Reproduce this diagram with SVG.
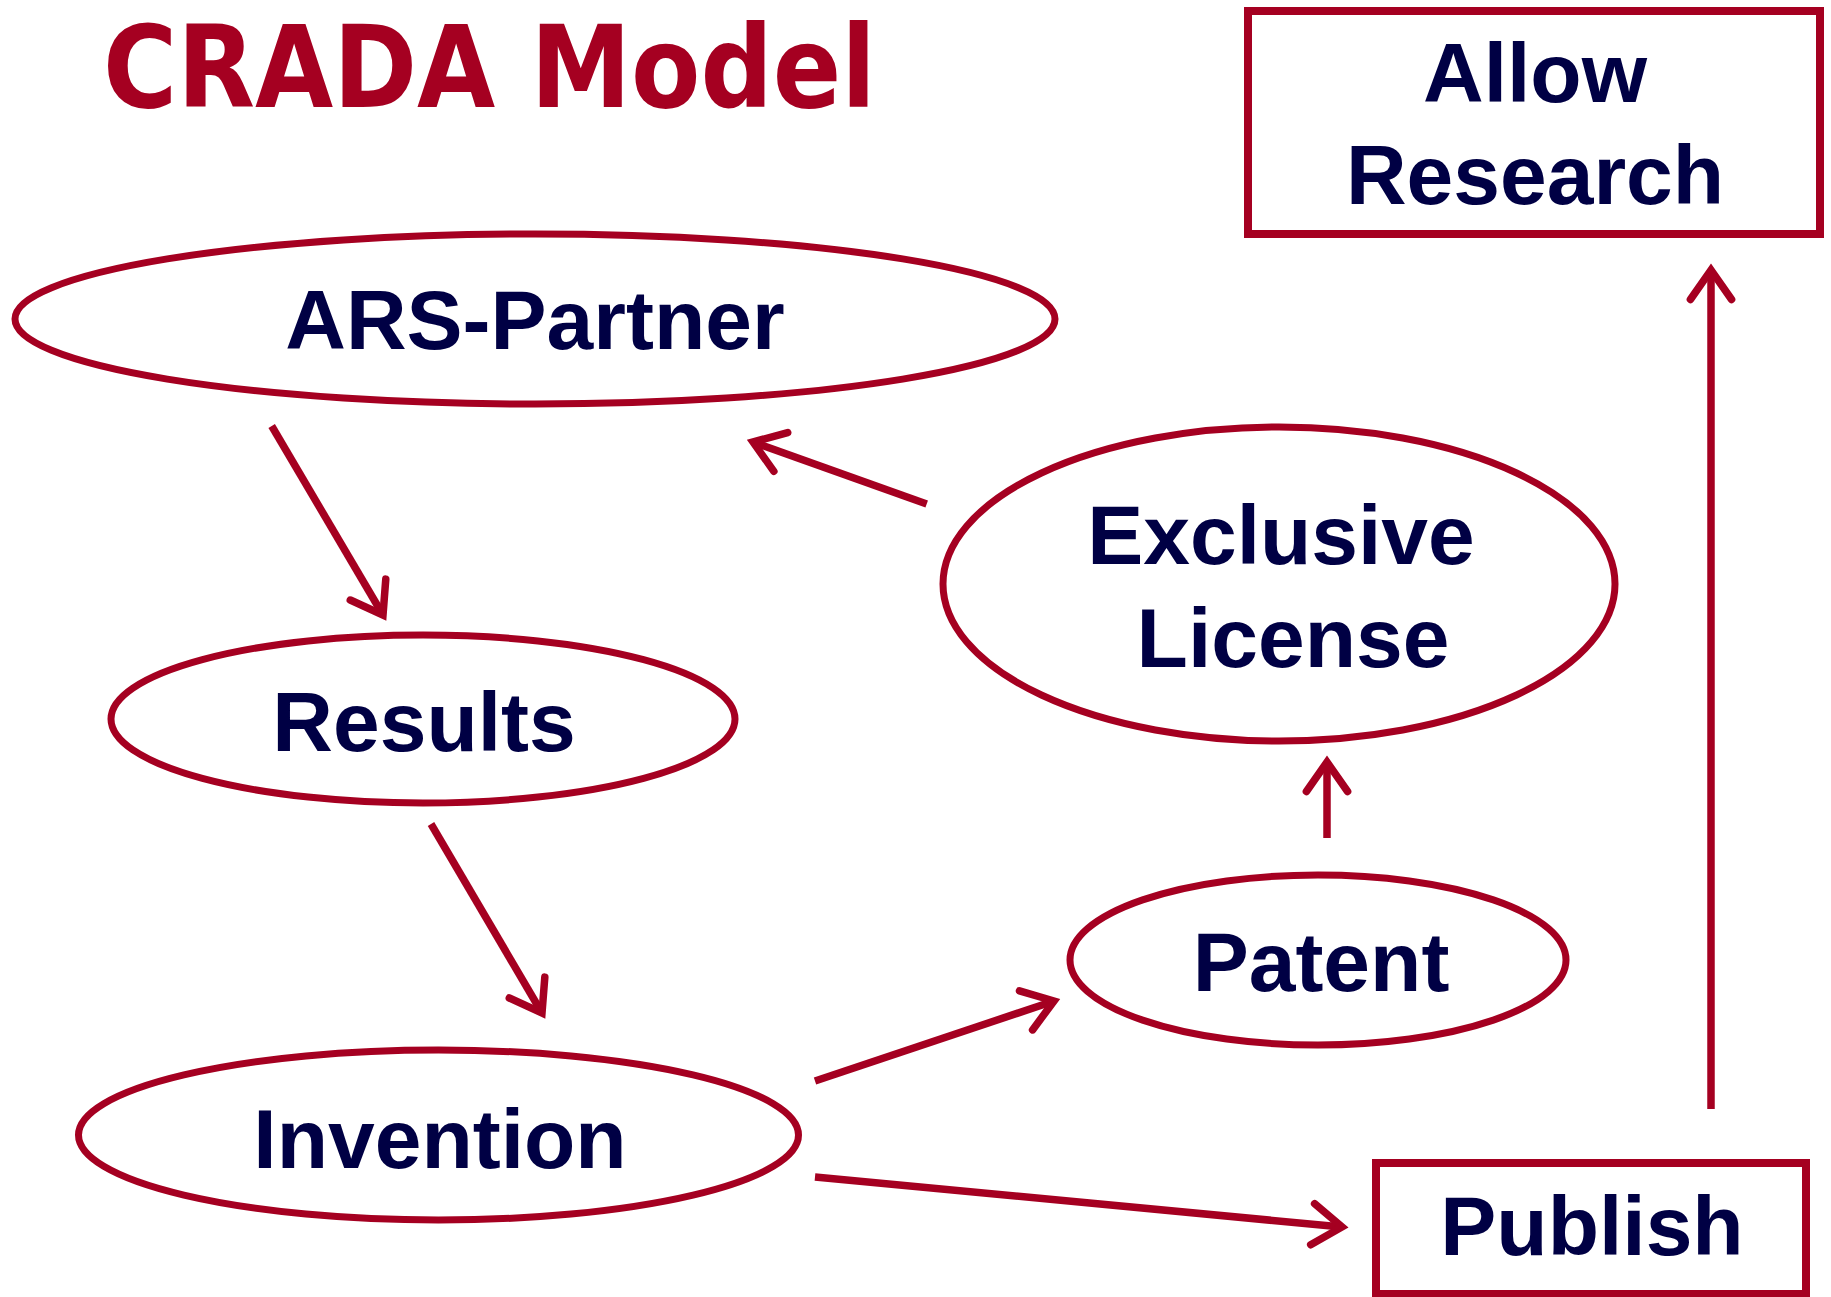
<svg xmlns="http://www.w3.org/2000/svg" width="1831" height="1297" viewBox="0 0 1831 1297">
<style>
.node-e{fill:#FFFFFF;stroke:#A50021;stroke-width:7}
.node-r{fill:#FFFFFF;stroke:#A50021;stroke-width:8}
.lbl{font-family:"Liberation Sans",Arial,sans-serif;font-weight:bold;font-size:84px;fill:#000044;text-anchor:middle}
.conn{fill:none;stroke:#A50021;stroke-width:7.5;stroke-linecap:butt;marker-end:url(#ah)}
.title{font-family:"Comic Sans MS","DejaVu Sans",sans-serif;font-weight:bold;font-size:114px;fill:#A50021}
</style>
<defs>
<marker id="ah" markerUnits="userSpaceOnUse" markerWidth="60" markerHeight="60" refX="40" refY="25" orient="auto" overflow="visible">
<path d="M10.5,4.4 L40,25 L10.5,45.6" fill="none" stroke="#A50021" stroke-width="7.5" stroke-linecap="round" stroke-linejoin="miter"/>
</marker>
</defs>
<rect width="1831" height="1297" fill="#FFFFFF"/>
<text id="title" class="title" x="103" y="107" textLength="773" lengthAdjust="spacingAndGlyphs">CRADA Model</text>
<g id="connectors">
<path class="conn" d="M271.7,426 L383,615"/>
<path class="conn" d="M926.7,504 L753,442"/>
<path class="conn" d="M431,824 L542,1013"/>
<path class="conn" d="M1327,838 L1327,762"/>
<path class="conn" d="M815,1081 L1054,1001"/>
<path class="conn" d="M815,1177 L1342,1227"/>
<path class="conn" d="M1711,1109 L1711,270"/>
</g>
<g id="allow-research">
<rect class="node-r" x="1248" y="11" width="572" height="223"/>
<text class="lbl" x="1535" y="102">Allow</text>
<text class="lbl" x="1535" y="204">Research</text>
</g>
<g id="ars-partner">
<ellipse class="node-e" cx="535" cy="319" rx="520" ry="85"/>
<text class="lbl" x="535" y="349">ARS-Partner</text>
</g>
<g id="results">
<ellipse class="node-e" cx="423" cy="719" rx="312" ry="84"/>
<text class="lbl" x="424" y="751">Results</text>
</g>
<g id="invention">
<ellipse class="node-e" cx="438.5" cy="1135" rx="360" ry="85"/>
<text class="lbl" x="440" y="1168">Invention</text>
</g>
<g id="exclusive-license">
<ellipse class="node-e" cx="1279" cy="584" rx="336" ry="157"/>
<text class="lbl" x="1281" y="564">Exclusive</text>
<text class="lbl" x="1293" y="667">License</text>
</g>
<g id="patent">
<ellipse class="node-e" cx="1318" cy="960" rx="248" ry="85"/>
<text class="lbl" x="1321" y="991">Patent</text>
</g>
<g id="publish">
<rect class="node-r" x="1376" y="1163" width="430" height="131"/>
<text class="lbl" x="1592" y="1255">Publish</text>
</g>
</svg>
